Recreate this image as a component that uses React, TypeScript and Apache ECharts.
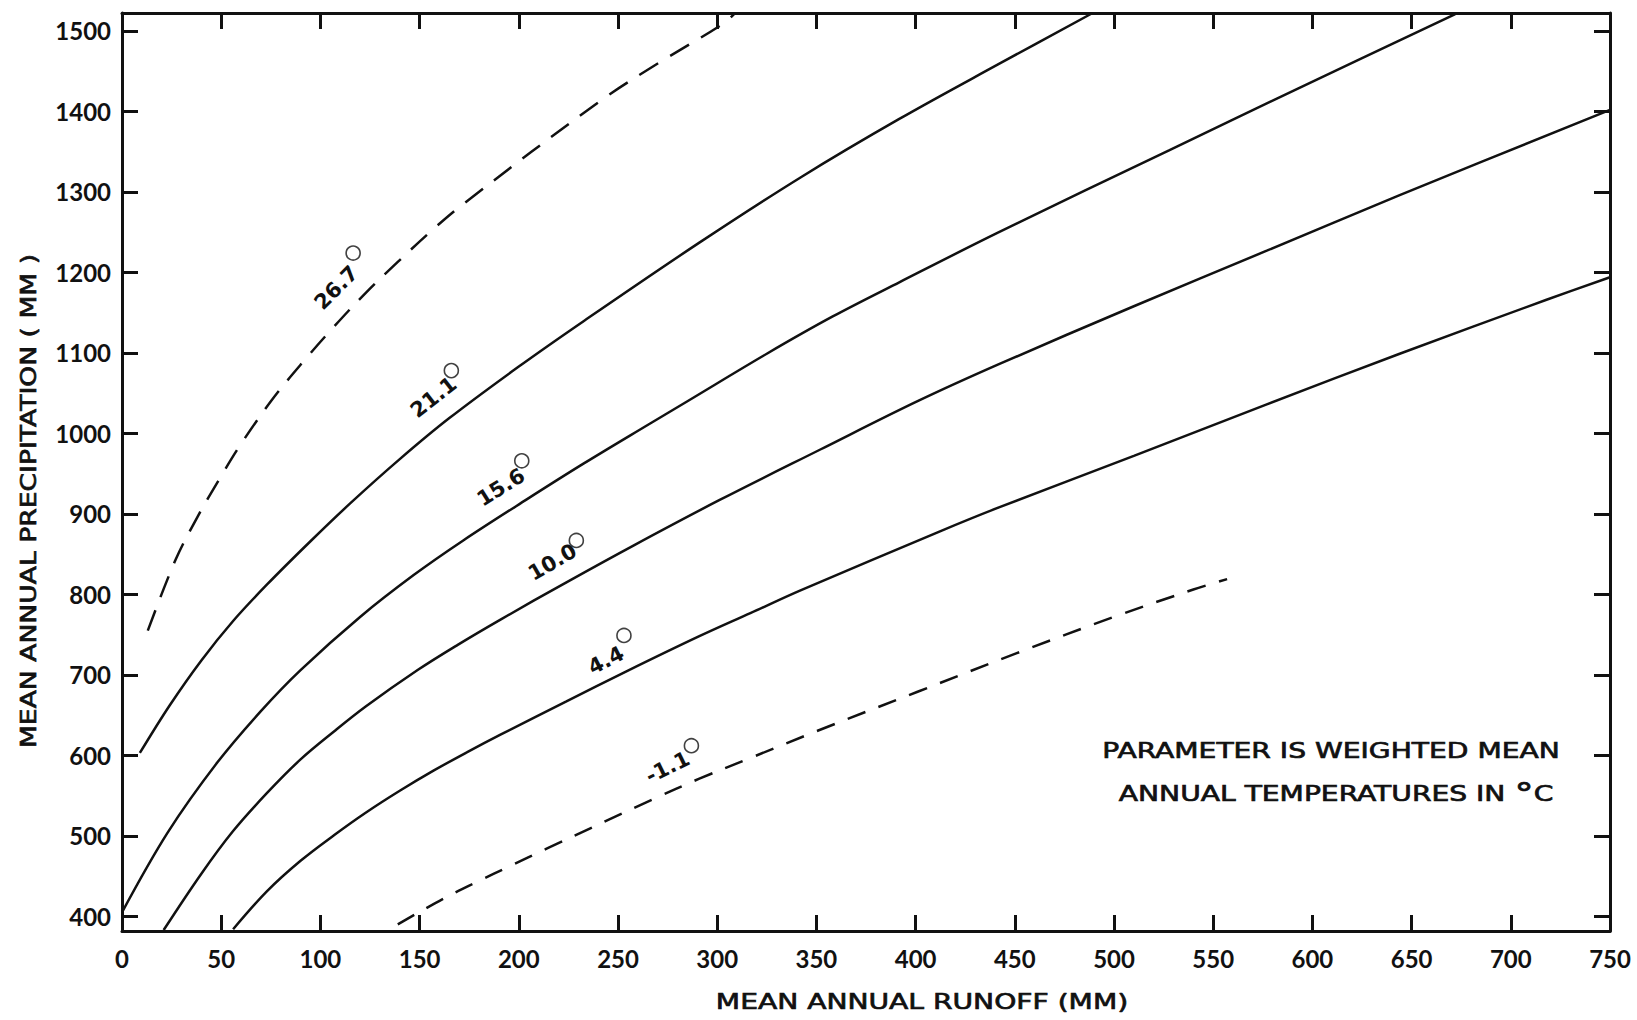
import React, { useEffect, useRef } from "react";
import * as echarts from "echarts";

// Axis tick values
const runoffTicks = [0, 50, 100, 150, 200, 250, 300, 350, 400, 450, 500, 550, 600, 650, 700, 750];
const precipTicks = [400, 500, 600, 700, 800, 900, 1000, 1100, 1200, 1300, 1400, 1500];

// Curves: [mean annual runoff (mm), mean annual precipitation (mm)]
const curve267 = [
  [13, 755], [27, 843], [38, 896], [49, 943], [60, 987], [76, 1043], [92, 1091], [107, 1133],
  [123, 1175], [139, 1213], [157, 1254], [172, 1285], [241, 1413], [271, 1461], [303, 1509],
  [309, 1522],
];
const curve211 = [
  [9, 603], [24, 662], [40, 718], [56, 767], [73, 812], [95, 866], [115, 913], [140, 968],
  [165, 1019], [200, 1083], [233, 1140], [291, 1237], [342, 1318], [392, 1391], [442, 1459],
  [489, 1522],
];
const curve156 = [
  [0, 405], [23, 504], [48, 591], [70, 655], [90, 706], [120, 772], [147, 824], [172, 867],
  [204, 918], [233, 963], [266, 1012], [285, 1040], [325, 1099], [358, 1145], [392, 1188],
  [442, 1250], [528, 1352], [594, 1430], [672, 1521],
];
const curve100 = [
  [21, 383], [40, 453], [56, 506], [73, 553], [90, 595], [107, 630], [123, 661], [149, 706],
  [169, 737], [191, 769], [224, 815], [258, 861], [301, 917], [352, 980], [401, 1040],
  [442, 1086], [510, 1158], [577, 1227], [644, 1296], [750, 1402],
];
const curve44 = [
  [56, 384], [73, 431], [90, 469], [107, 501], [123, 529], [140, 556], [157, 581], [174, 604],
  [191, 626], [224, 667], [254, 704], [291, 748], [317, 777], [342, 805], [412, 878],
  [442, 908], [510, 972], [577, 1036], [644, 1099], [718, 1166], [750, 1194],
];
const curveM11 = [
  [139, 390], [162, 422], [179, 443], [196, 463], [214, 484], [268, 546], [291, 571],
  [317, 597], [350, 630], [401, 679], [451, 727], [501, 773], [540, 806], [557, 819],
];

// Curve labels (weighted mean annual temperature, °C)
const labelTexts = ["26.7", "21.1", "15.6", "10.0", "4.4", "-1.1"];
const labelPos = [[108, 1181], [157, 1045], [191, 933], [217, 840], [244, 718], [275, 585]];
const degreePos = [[116.5, 1224], [166, 1078], [201.5, 966], [229, 867], [253, 749], [287, 612]];
const labelAngles = [45, 38, 32, 30, 27, 26];

const INK = "#111111";

function xAxisCfg(position: "bottom" | "top", showLabels: boolean) {
  return {
    type: "value",
    position,
    min: 0,
    max: 750,
    splitLine: { show: false },
    axisLine: { show: true, onZero: false, lineStyle: { color: INK, width: 3 } },
    axisTick: { show: true, inside: true, length: 16, customValues: runoffTicks, lineStyle: { color: INK, width: 3 } },
    axisLabel: {
      show: showLabels,
      customValues: runoffTicks,
      formatter: (v: number) => String(v),
      margin: 15,
      color: INK,
      fontFamily: "Lato",
      fontWeight: "bold",
      fontSize: 24,
    },
  };
}

function yAxisCfg(position: "left" | "right", showLabels: boolean) {
  return {
    type: "value",
    position,
    min: 381.8,
    max: 1522.3,
    splitLine: { show: false },
    axisLine: { show: true, onZero: false, lineStyle: { color: INK, width: 3 } },
    axisTick: { show: true, inside: true, length: 16, customValues: precipTicks, lineStyle: { color: INK, width: 3 } },
    axisLabel: {
      show: showLabels,
      customValues: precipTicks,
      formatter: (v: number) => String(v),
      margin: 11,
      color: INK,
      fontFamily: "Lato",
      fontWeight: "bold",
      fontSize: 24,
    },
  };
}

function lineSeries(data: number[][], dash: number[] | null) {
  return {
    type: "line",
    data,
    smooth: 0.35,
    showSymbol: false,
    symbol: "none",
    silent: true,
    xAxisIndex: 0,
    yAxisIndex: 0,
    lineStyle: { color: INK, width: 2.5, type: dash ? dash : "solid", cap: "butt" },
  };
}

export default function App() {
  const ref = useRef<HTMLDivElement>(null);

  useEffect(() => {
    const chart = echarts.init(ref.current!, null, { renderer: "svg" });
    const titleFont = {
      fontFamily: "DejaVu Sans",
      fontWeight: "normal",
      fontSize: 22,
      fill: INK,
      stroke: INK,
      lineWidth: 0.7,
    };
    const option: any = {
      animation: false,
      backgroundColor: "#ffffff",
      grid: { left: 122, right: 27, top: 13, bottom: 89, containLabel: false },
      xAxis: [xAxisCfg("bottom", true), xAxisCfg("top", false)],
      yAxis: [yAxisCfg("left", true), yAxisCfg("right", false)],
      series: [
        lineSeries(curve267, [22, 14]),
        lineSeries(curve211, null),
        lineSeries(curve156, null),
        lineSeries(curve100, null),
        lineSeries(curve44, null),
        lineSeries(curveM11, [19, 14]),
        {
          type: "scatter",
          silent: true,
          symbol: "circle",
          symbolSize: 1,
          itemStyle: { color: "rgba(255,255,255,0)" },
          label: {
            show: true,
            position: "inside",
            color: INK,
            opacity: 1,
            textBorderWidth: 0,
            textBorderColor: "transparent",
            fontFamily: "DejaVu Sans",
            fontWeight: "bold",
            fontSize: 21,
          },
          data: labelTexts.map((t, i) => ({
            value: labelPos[i],
            label: { formatter: t, rotate: labelAngles[i] },
          })),
        },
        {
          type: "scatter",
          silent: true,
          symbol: "circle",
          symbolSize: 14,
          itemStyle: { color: "rgba(255,255,255,0)", borderColor: INK, borderWidth: 1.6 },
          data: degreePos,
        },
      ],
      graphic: [
        {
          type: "text",
          x: 28,
          y: 501,
          rotation: Math.PI / 2,
          scaleX: 1.21,
          style: { ...titleFont, text: "MEAN ANNUAL PRECIPITATION ( MM )", align: "center", verticalAlign: "middle" },
        },
        {
          type: "text",
          x: 922,
          y: 1002,
          scaleX: 1.28,
          style: { ...titleFont, text: "MEAN ANNUAL RUNOFF (MM)", align: "center", verticalAlign: "middle" },
        },
        {
          type: "text",
          x: 1331,
          y: 751,
          scaleX: 1.28,
          style: { ...titleFont, text: "PARAMETER IS WEIGHTED MEAN", align: "center", verticalAlign: "middle" },
        },
        {
          type: "text",
          x: 1336,
          y: 794,
          scaleX: 1.28,
          style: {
            ...titleFont,
            text: "ANNUAL TEMPERATURES IN {deg|°}C",
            align: "center",
            verticalAlign: "middle",
            rich: { deg: { fontFamily: "DejaVu Sans", fontSize: 30, fill: INK, fontWeight: "normal" } },
          },
        },
      ],
    };
    chart.setOption(option);
    return () => chart.dispose();
  }, []);

  return (
    <div
      ref={ref}
      style={{ position: "fixed", left: 0, top: 0, width: 1637, height: 1020, background: "#ffffff" }}
    />
  );
}
